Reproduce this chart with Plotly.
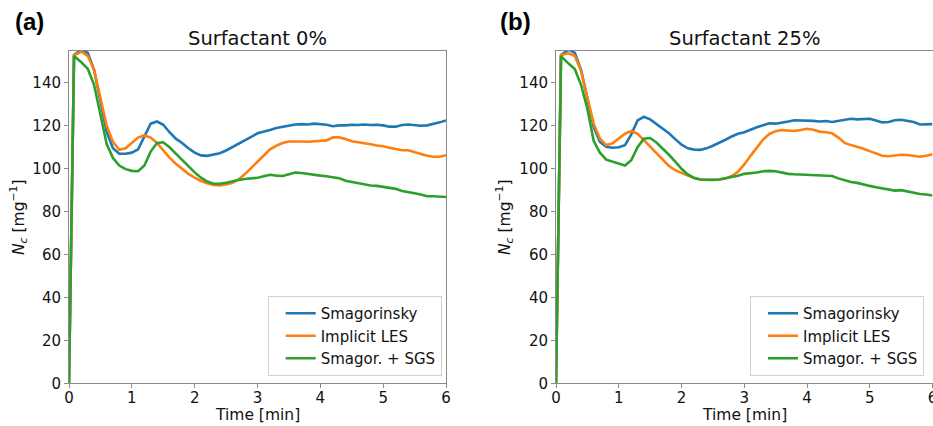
import plotly.graph_objects as go

time_min = [0, 0.08, 0.2, 0.3, 0.4, 0.5, 0.6, 0.7, 0.8, 0.9, 1.0, 1.1, 1.2, 1.3, 1.4, 1.5,
            1.6, 1.7, 1.8, 1.9, 2.0, 2.1, 2.2, 2.3, 2.4, 2.5, 2.6, 2.7, 2.8, 2.9, 3.0, 3.1,
            3.2, 3.3, 3.4, 3.5, 3.6, 3.7, 3.8, 3.9, 4.0, 4.1, 4.2, 4.3, 4.4, 4.5, 4.6, 4.7,
            4.8, 4.9, 5.0, 5.1, 5.2, 5.3, 5.4, 5.5, 5.6, 5.7, 5.8, 5.9, 6.0]

# Panel (a) Surfactant 0%
a_smag = [0, 153, 155.5, 154, 146, 132, 117, 109.5, 107, 107, 107.5, 109, 115, 121, 122, 120.5,
          117, 114, 112, 109.5, 107.5, 106.2, 106, 106.5, 107.2, 108.5, 110, 111.5, 113, 114.8, 116.5, 117.2,
          118, 119, 119.6, 120, 120.6, 120.8, 120.6, 121, 120.8, 120.5, 119.8, 120.2, 120.2, 120.5, 120.4, 120.6,
          120.4, 120.5, 120.2, 119.6, 119.6, 120.4, 120.6, 120.4, 120, 120.2, 120.8, 121.6, 122.5]
a_iles = [0, 153, 154.5, 152.5, 146, 133, 120, 112.5, 108.8, 109.5, 112, 114.5, 115.5, 114.5, 112, 108.5,
          105.2, 102.3, 99.8, 97.6, 95.8, 94.3, 93.2, 92.4, 92.2, 92.6, 93.5, 95, 97.5, 100.5, 103.5, 106.5,
          109, 110.7, 112, 112.7, 112.8, 112.7, 112.6, 112.7, 112.8, 113.2, 114.6, 114.6, 113.8, 112.8, 112.3, 112,
          111.4, 110.8, 110.5, 109.8, 109.2, 108.6, 108.6, 107.8, 106.8, 106, 105.6, 105.6, 106.3]
a_sgs = [0, 152.5, 149.5, 146.5, 139, 126, 111.5, 105, 101.5, 99.8, 99, 98.8, 101.5, 108, 112, 112.3,
         110, 107, 104, 101, 98.3, 95.8, 94, 93, 93, 93.5, 94.2, 94.7, 95.2, 95.5, 95.8, 96.5,
         97.2, 96.8, 96.6, 97.4, 98.2, 98, 97.5, 97, 96.8, 96.5, 96.2, 95.6, 94.4, 93.8, 93.2, 92.6,
         92.2, 92, 91.6, 91.2, 90.6, 89.6, 89.2, 88.6, 88, 87.2, 87.2, 87, 86.8]

# Panel (b) Surfactant 25%
b_smag = [0, 153, 155.5, 154, 146, 133, 119.5, 112.5, 110.2, 109.8, 110, 111, 116, 122.5, 124.2, 123,
          120.8, 118.8, 116.5, 113.8, 111.2, 109.5, 108.9, 108.8, 109.5, 110.7, 112.3, 113.5, 115, 116.3, 117, 118.3,
          119.3, 120.3, 121.2, 121, 121.4, 122, 122.6, 122.6, 122.6, 122.3, 122, 122.2, 121.8, 122.2, 122.8, 123.3,
          123, 123.2, 123.3, 122.5, 121.6, 121.8, 122.6, 122.8, 122.2, 121.8, 120.6, 120.6, 120.8]
b_iles = [0, 153, 153.8, 152.5, 145.5, 133.5, 121, 114, 111, 111.8, 114, 116.3, 117.6, 116.3, 113.3, 110.2,
          107, 104, 101.3, 99.3, 98, 96.8, 95.8, 95, 94.8, 94.8, 95, 95.5, 96.6, 98.6, 102, 106,
          110, 113.6, 116.2, 117.5, 118, 117.8, 117.6, 118, 118.6, 118.2, 117.3, 117, 116.5, 114.5, 112, 111,
          110.3, 109.3, 108.2, 107, 106, 105.8, 106.2, 106.5, 106.4, 106, 105.6, 106, 106.8]
b_sgs = [0, 152.5, 149, 146.5, 139, 128, 113, 107.5, 104.2, 103.2, 102.3, 101.5, 104, 110, 114, 114.3,
         112.2, 109.5, 106.5, 103.3, 100, 97.3, 95.7, 95, 94.8, 94.8, 95, 95.5, 96, 96.7, 97.6, 97.8,
         98.2, 98.8, 99, 98.8, 98.2, 97.6, 97.4, 97.3, 97.2, 97, 96.8, 96.8, 96.6, 95.5, 94.5, 93.8,
         93.4, 92.6, 92, 91.4, 90.8, 90.2, 89.8, 90, 89.4, 88.8, 88.2, 88, 87.5]

series_names = ["Smagorinsky", "Implicit LES", "Smagor. + SGS"]
colors = ["#1f77b4", "#ff7f0e", "#2ca02c"]
panel_titles = ["Surfactant 0%", "Surfactant 25%"]
panel_labels = ["(a)", "(b)"]
x_ticks = [0, 1, 2, 3, 4, 5, 6]
y_ticks = [0, 20, 40, 60, 80, 100, 120, 140]

W, H = 933, 426
FONT = "DejaVu Sans"

fig = go.Figure()

panels = [(a_smag, a_iles, a_sgs), (b_smag, b_iles, b_sgs)]
for p, data in enumerate(panels):
    xa = "x" if p == 0 else "x2"
    ya = "y" if p == 0 else "y2"
    leg = "legend" if p == 0 else "legend2"
    for name, col, vals in zip(series_names, colors, data):
        fig.add_trace(go.Scatter(x=time_min, y=vals, mode="lines", name=name,
                                 line=dict(color=col, width=2.6),
                                 xaxis=xa, yaxis=ya, legend=leg))

x_dom = [[69 / W, 446 / W], [556 / W, 932.5 / W]]
y_dom = [(H - 383.3) / H, (H - 50.7) / H]

axis_common = dict(showline=True, linecolor="#8a8a8a", linewidth=1, mirror=True,
                   ticks="outside", ticklen=4, tickcolor="#8a8a8a", showgrid=False,
                   zeroline=False, automargin=False, ticklabeloverflow="allow",
                   tickfont=dict(family=FONT, size=15, color="#111"))

legend_common = dict(xanchor="right", yanchor="bottom", indentation=12,
                     bgcolor="rgba(255,255,255,0.85)", bordercolor="#d0d0d0", borderwidth=1,
                     font=dict(family=FONT, size=15, color="#111"))

fig.update_layout(
    template="none",
    width=W, height=H, autosize=False,
    margin=dict(l=0, r=0, t=0, b=0, pad=0),
    paper_bgcolor="white", plot_bgcolor="white",
    showlegend=True,
    xaxis=dict(domain=x_dom[0], range=[0, 6], tickvals=x_ticks, anchor="y",
               ticklabelstandoff=-3, **axis_common),
    yaxis=dict(domain=y_dom, range=[0, 155], tickvals=y_ticks, anchor="x", **axis_common),
    xaxis2=dict(domain=x_dom[1], range=[0, 6], tickvals=x_ticks, anchor="y2",
                ticklabelstandoff=-3, **axis_common),
    yaxis2=dict(domain=y_dom, range=[0, 155], tickvals=y_ticks, anchor="x2", **axis_common),
    legend=dict(x=441.7 / W, y=(H - 376) / H, **legend_common),
    legend2=dict(x=924 / W, y=(H - 376) / H, **legend_common),
)

annotations = []
for p in range(2):
    x0, x1 = x_dom[p]
    xc = (x0 + x1) / 2
    annotations.append(dict(text=panel_titles[p], x=xc, y=(H - 39) / H, xref="paper", yref="paper",
                            showarrow=False, xanchor="center", yanchor="middle",
                            font=dict(family=FONT, size=19.5, color="#111")))
    annotations.append(dict(text="Time [min]", x=xc,
                            y=(H - 415) / H, xref="paper", yref="paper",
                            showarrow=False, xanchor="center", yanchor="middle",
                            font=dict(family=FONT, size=15.5, color="#111")))
    annotations.append(dict(text="<i>N</i><sub><i>c</i></sub> [mg<sup>\u22121</sup>]",
                            x=(18 if p == 0 else 504) / W, y=(H - 217) / H,
                            xref="paper", yref="paper", textangle=-90,
                            showarrow=False, xanchor="center", yanchor="middle",
                            font=dict(family=FONT, size=15.5, color="#111")))
    annotations.append(dict(text="<b>" + panel_labels[p] + "</b>",
                            x=(29 if p == 0 else 515) / W, y=(H - 22) / H,
                            xref="paper", yref="paper",
                            showarrow=False, xanchor="center", yanchor="middle",
                            font=dict(family="Liberation Sans", size=24, color="#000")))
fig.update_layout(annotations=annotations)

fig.write_html("out.html",
               config={"displayModeBar": False, "responsive": False},
               post_script="document.documentElement.style.margin='0px';"
                           "document.body.style.margin='0px';"
                           "document.body.style.overflow='hidden';")
